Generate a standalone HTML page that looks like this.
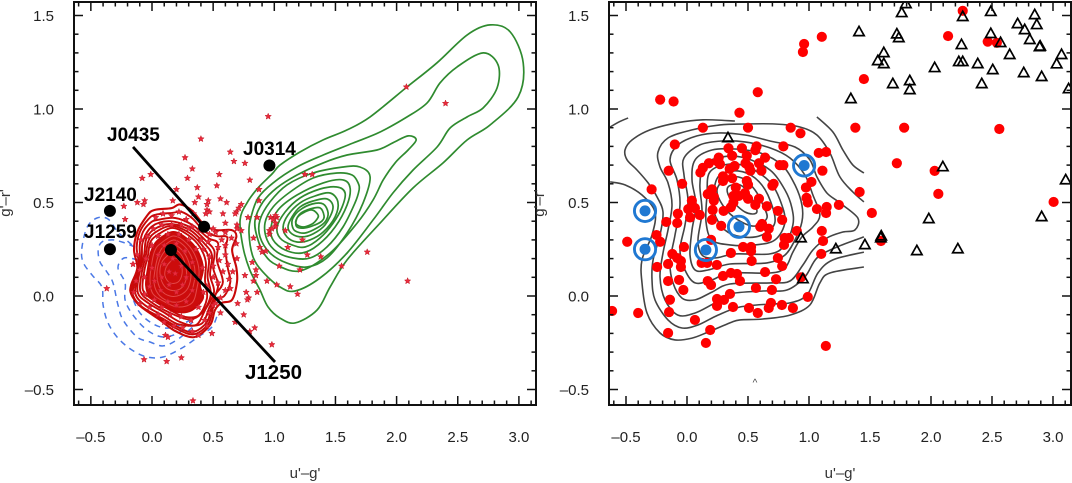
<!DOCTYPE html>
<html lang="en">
<head>
<meta charset="utf-8">
<title>Colour-colour diagrams</title>
<style>
html,body{margin:0;padding:0;background:#fff;width:1072px;height:483px;overflow:hidden}
svg{display:block}
text{font-family:"Liberation Sans",sans-serif}
.tick-label{font-size:15px;fill:#222}
.axis-title{font-size:15px;fill:#333}
.source-label{font-size:19px;font-weight:bold;fill:#000}
</style>
</head>
<body>
<svg width="1072" height="483" viewBox="0 0 1072 483">
<defs>
<clipPath id="clip-left"><rect x="74" y="2" width="462" height="403"/></clipPath>
<clipPath id="clip-right"><rect x="609" y="2" width="462" height="403"/></clipPath>
</defs>
<g id="left-marks" clip-path="url(#clip-left)"></g>
<g id="right-marks" clip-path="url(#clip-right)"></g>
<g id="left-axes"></g>
<g id="right-axes"></g>
<g id="annotations">
<text class="source-label" x="107" y="141">J0435</text>
<text class="source-label" x="243" y="155">J0314</text>
<text class="source-label" x="84" y="201">J2140</text>
<text class="source-label" x="84" y="238">J1259</text>
<text class="source-label" x="245" y="379" style="font-size:20.5px">J1250</text>
<text x="755" y="386" font-size="10" fill="#444" text-anchor="middle">^</text>
</g>
<text class="axis-title" x="305" y="478" text-anchor="middle">u'–g'</text>
<text class="axis-title" x="840" y="478" text-anchor="middle">u'–g'</text>
<text class="axis-title" transform="translate(10,203) rotate(-90)" text-anchor="middle">g'–r'</text>
<text class="axis-title" transform="translate(544,203) rotate(-90)" text-anchor="middle">g'–r'</text>
</svg>
<script>
// ---- tick labels ----
const xTickValues=[-0.5,0,0.5,1,1.5,2,2.5,3];
const xTickLabels=['–0.5','0.0','0.5','1.0','1.5','2.0','2.5','3.0'];
const yTickValues=[-0.5,0,0.5,1,1.5];
const yTickLabels=['–0.5','0.0','0.5','1.0','1.5'];

// ---- highlighted sources (u'-g', g'-r') ----
const sourceNames=['J2140','J1259','J1250','J0435','J0314'];
const sourceU=[-0.344,-0.344,0.155,0.426,0.96];
const sourceG=[0.455,0.25,0.246,0.37,0.698];
const leaderJ0435=[[-0.155,0.797],[0.426,0.37]];
const leaderJ1250=[[0.155,0.246],[1.006,-0.353]];

// ---- left panel: star-forming sample stars ----
const starPoints=[[.95,.96],[.40,.84],[.27,.74],[.64,.77],[.67,.72],[.76,.71],[.33,.68],[.55,.65],[.29,.63],[-.08,.63],[-.01,.65],[.80,.62],[.53,.59],[.37,.58],[.20,.57],[.875,.57],[.38,.53],[.56,.52],[.61,.50],[.46,.51],[.45,.49],[.875,.51],[.35,.50],[.17,.51],[-.06,.51],[-.07,.49],[-.12,.50],[-.23,.48],[-.22,.41],[.73,.49],[.71,.47],[.69,.45],[.68,.44],[.45,.46],[.44,.44],[.47,.45],[.58,.44],[.34,.44],[.86,.42],[.785,.42],[.60,.39],[.695,.38],[.695,.36],[.73,.35],[.50,.36],[.97,.42],[1.02,.42],[.99,.41],[1.09,.35],[.83,.31],[.96,.35],[1.01,.37],[1.25,.65],[1.31,.65],[1.01,.43],[1.01,.39],[.98,.36],[.96,.33],[1.23,.30],[1.11,.26],[.88,.26],[.90,.235],[.93,.24],[1.27,.22],[1.38,.21],[1.04,.16],[1.21,.14],[1.55,.16],[1.76,.235],[.82,.18],[.85,.14],[.85,.11],[.76,.11],[.83,.08],[.94,.08],[1.02,.06],[1.13,.05],[1.19,.01],[.86,.02],[.77,.02],[.79,-.01],[.78,-.02],[.70,-.04],[.75,-.10],[.84,-.17],[.695,.20],[.69,.28],[2.08,1.118],[2.40,1.03],[2.09,.08],[-.37,.04],[-.065,-.34],[.12,-.35],[.24,-.33],[.11,-.21],[.13,-.22],[.49,-.20],[.98,-.26],[.80,-.19],[.68,-.14],[.335,-.56],[-.155,.17],[.56,-.09],
[.03,.42],[.09,.44],[.16,.43],[.22,.45],[.28,.41],[.33,.37],[.39,.35],[.47,.33],[.52,.34],[.6,.34],[.65,.31],[.6,.27],[.54,.26],[.46,.29],[.4,.3],[.3,.36],[.24,.38],[.16,.38],[.08,.38],[.01,.36],[-.04,.32],[-.09,.3],[-.12,.22],[-.1,.14],[-.13,.08],[-.15,.02],[-.1,-.04],[-.06,.01],[-.02,-.06],[.05,-.1],[.1,-.14],[.18,-.16],[.25,-.17],[.33,-.19],[.38,-.21],[.43,-.13],[.47,-.09],[.5,-.05],[.56,-.01],[.6,.03],[.63,.09],[.58,.13],[.62,.17],[.55,.19],[.6,.22],[.5,.16],[.5,.1],[.45,.05],[.41,.15],[.36,.25],[.3,.3],[.22,.33],[.13,.33],[.05,.32],[0,.27],[-.05,.2],[-.06,.1],[-.02,.05],[.02,-.02],[.08,-.06],[.15,-.1],[.24,-.11],[.32,-.13],[.38,-.06],[.42,.02],[.36,.1],[.33,.18],[.27,.24],[.2,.28],[.1,.27],[.05,.22],[0,.15],[.02,.08],[.07,.03],[.13,-.03],[.2,-.05],[.28,-.03],[.33,.03],[.28,.1],[.24,.16],[.17,.2],[.1,.17],[.08,.1],[.14,.06],[.2,.02],[.25,.06],[.19,.12],[.14,.13],[.57,.3],[.66,.13],[.64,.04],[.54,.07],[.47,.21],[.42,.25],[.52,-.04],[.45,-.16]];

// ---- left panel: red density contours ----
const red1=[[-.04,.43],[.02,.46],[.16,.47],[.23,.49],[.33,.455],[.42,.385],[.515,.353],[.65,.353],[.69,.32],[.655,.246],[.69,.15],[.695,.075],[.655,-.02],[.57,-.037],[.515,-.075],[.475,-.155],[.345,-.22],[.19,-.187],[.065,-.128],[-.098,-.053],[-.17,.01],[-.17,.06],[-.12,.15],[-.147,.246],[-.12,.342]];
const red1b=[[-.03,.41],[.03,.435],[.17,.445],[.24,.45],[.33,.415],[.43,.345],[.53,.32],[.615,.315],[.6,.25],[.62,.15],[.64,.075],[.59,0],[.52,-.015],[.5,-.06],[.46,-.15],[.34,-.205],[.2,-.175],[.07,-.122],[-.09,-.056],[-.162,.008],[-.155,.07],[-.11,.165],[-.125,.26],[-.1,.342]];
const red2=[[-.016,.39],[.04,.406],[.19,.417],[.33,.38],[.46,.31],[.54,.283],[.53,.193],[.58,.075],[.515,.005],[.49,-.048],[.45,-.139],[.335,-.193],[.21,-.166],[.08,-.118],[-.08,-.059],[-.155,.005],[-.14,.075],[-.1,.182],[-.1,.273],[-.074,.342]];
const red2b=[[0,.372],[.145,.4],[.32,.365],[.44,.295],[.51,.24],[.5,.15],[.54,.05],[.47,-.06],[.40,-.15],[.22,-.152],[.09,-.105],[-.06,-.048],[-.135,.01],[-.122,.095],[-.085,.2],[-.075,.29]];
const red3=[[.01,.353],[.147,.385],[.31,.353],[.425,.283],[.49,.219],[.475,.112],[.507,.021],[.434,-.075],[.36,-.155],[.23,-.139],[.106,-.091],[-.033,-.037],[-.115,.016],[-.106,.112],[-.065,.219],[-.049,.3]];
const red3b=[[.02,.337],[.155,.375],[.3,.34],[.408,.272],[.465,.2],[.455,.1],[.48,.005],[.41,-.09],[.3,-.125],[.125,-.083],[-.012,-.03],[-.095,.024],[-.085,.12],[-.05,.219],[-.032,.29]];
const red4=[[.033,.321],[.164,.364],[.294,.326],[.392,.262],[.44,.182],[.433,.086],[.45,-.011],[.384,-.102],[.27,-.112],[.147,-.075],[.008,-.021],[-.074,.032],[-.065,.128],[-.033,.219],[-.016,.283]];
const red5=[[.049,.299],[.172,.342],[.278,.31],[.368,.246],[.417,.15],[.392,.059],[.417,-.011],[.327,-.075],[.213,-.086],[.09,-.048],[-.016,-.005],[-.049,.059],[-.033,.15],[-.008,.235]];
const red6=[[.065,.278],[.172,.321],[.262,.294],[.343,.23],[.384,.139],[.368,.043],[.327,-.037],[.213,-.059],[.106,-.032],[.008,.011],[-.016,.086],[0,.182],[.025,.246]];
const red7=[[.09,.262],[.172,.299],[.254,.273],[.319,.214],[.352,.128],[.327,.032],[.262,-.021],[.164,-.032],[.065,0],[.016,.07],[.033,.171],[.057,.225]];
const red8=[[.106,.241],[.18,.273],[.245,.246],[.294,.193],[.319,.118],[.294,.043],[.229,.005],[.147,0],[.074,.032],[.041,.102],[.057,.182]];
const red9=[[.123,.214],[.188,.246],[.245,.214],[.278,.15],[.278,.086],[.229,.037],[.147,.032],[.09,.064],[.065,.128],[.082,.182]];
const red10=[[.147,.182],[.196,.203],[.237,.171],[.245,.118],[.213,.075],[.147,.07],[.106,.107],[.114,.15]];

// ---- left panel: blue dashed contours ----
const blue1=[[-.164,.273],[-.278,.342],[-.36,.412],[-.45,.417],[-.53,.369],[-.573,.257],[-.564,.182],[-.49,.112],[-.41,.048],[-.40,-.048],[-.36,-.144],[-.278,-.225],[-.164,-.289],[-.041,-.326],[.09,-.326],[.245,-.278],[.376,-.219],[.49,-.166],[.54,-.091]];
const blue2=[[-.139,.262],[-.245,.289],[-.327,.3],[-.41,.289],[-.44,.246],[-.425,.182],[-.368,.128],[-.319,.07],[-.278,-.048],[-.237,-.128],[-.123,-.219],[-.016,-.246],[.09,-.267],[.204,-.235],[.352,-.155]];
const blue3=[[-.115,.193],[-.229,.203],[-.278,.15],[-.22,.07],[-.22,-.021],[-.155,-.102],[-.041,-.182],[.09,-.219],[.229,-.193],[.352,-.128]];
const blue4=[[-.18,.032],[-.115,-.075],[-.016,-.139],[.106,-.171],[.229,-.155],[.392,-.102]];

// ---- left panel: green contours ----
const green1=[[.72,.407],[.777,.498],[.867,.578],[.982,.653],[1.047,.70],[1.21,.77],[1.40,.835],[1.595,.888],[1.783,.958],[2.086,1.118],[2.33,1.247],[2.577,1.396],[2.765,1.45],[2.93,1.412],[3.035,1.247],[2.994,1.065],[2.765,.915],[2.577,.835],[2.38,.712],[2.135,.578],[1.865,.39],[1.595,.193],[1.456,.048],[1.35,-.075],[1.17,-.144],[1.047,-.118],[.949,-.059],[.883,.032],[.80,.139],[.744,.262]];
const green2=[[1.17,.027],[1.047,.048],[.908,.128],[.826,.209],[.793,.337],[.81,.423],[.867,.524],[.99,.605],[1.186,.69],[1.40,.754],[1.644,.818],[1.865,.877],[2.086,.958],[2.25,1.033],[2.356,1.14],[2.495,1.225],[2.708,1.30],[2.83,1.236],[2.822,1.113],[2.708,1.006],[2.577,.958],[2.438,.899],[2.331,.797],[2.135,.674],[1.97,.551],[1.808,.407],[1.595,.23],[1.374,.096]];
const green3=[[1.21,.134],[1.02,.166],[.924,.219],[.859,.316],[.843,.407],[.908,.503],[1.02,.578],[1.186,.647],[1.40,.712],[1.595,.754],[1.84,.781],[1.97,.819],[2.094,.856],[2.16,.835],[2.094,.781],[1.988,.712],[1.89,.62],[1.808,.514],[1.677,.39],[1.456,.23]];
const green4=[[1.783,.637],[1.70,.69],[1.562,.69],[1.317,.658],[1.104,.594],[.965,.503],[.883,.407],[.883,.316],[.965,.23],[1.104,.176],[1.268,.155],[1.43,.203],[1.595,.337],[1.726,.498]];
const green5=[[1.685,.605],[1.636,.647],[1.513,.658],[1.317,.631],[1.129,.556],[.99,.476],[.924,.391],[.941,.30],[1.023,.235],[1.153,.203],[1.292,.203],[1.43,.262],[1.562,.369],[1.66,.498],[1.693,.567]];
const green6=[[1.62,.578],[1.562,.621],[1.40,.605],[1.186,.54],[1.03,.46],[.973,.369],[.99,.30],[1.088,.246],[1.227,.23],[1.358,.273],[1.497,.369],[1.595,.487]];
const green7=[[1.579,.551],[1.513,.583],[1.374,.572],[1.21,.524],[1.088,.449],[1.023,.369],[1.047,.31],[1.145,.273],[1.252,.262],[1.374,.31],[1.481,.39],[1.554,.476]];
const green8=[[1.52,.503],[1.456,.551],[1.333,.535],[1.21,.498],[1.112,.433],[1.072,.369],[1.104,.316],[1.186,.289],[1.292,.30],[1.40,.342],[1.497,.423]];
const green9=[[1.48,.471],[1.432,.519],[1.317,.508],[1.21,.476],[1.145,.423],[1.112,.369],[1.145,.332],[1.227,.316],[1.317,.332],[1.415,.38]];
const green10=[[1.44,.444],[1.40,.492],[1.309,.492],[1.21,.46],[1.153,.417],[1.145,.38],[1.17,.348],[1.252,.337],[1.35,.364],[1.415,.396]];
const green11=[[1.407,.428],[1.374,.471],[1.292,.465],[1.21,.439],[1.178,.401],[1.186,.369],[1.252,.364],[1.333,.38],[1.39,.401]];
const green12=[[1.358,.433],[1.309,.46],[1.235,.444],[1.186,.417],[1.178,.385],[1.235,.369],[1.309,.385],[1.35,.412]];

// ---- right panel: red circles ----
const circlePoints=[[-.22,1.05],[-.11,1.04],[.58,1.09],[.43,.98],[.13,.90],[.50,.90],[.85,.90],[.93,.87],[1.38,.90],[-.10,.81],[.79,.80],[.57,.80],[.56,.78],[.34,.79],[.45,.79],[1.08,.765],[1.14,.77],[.49,.75],[.37,.75],[.26,.74],[.25,.72],[.64,.74],[.59,.71],[.48,.71],[.51,.69],[.76,.70],[.79,.70],[.18,.71],[.13,.685],[.11,.66],[.27,.705],[.39,.695],[.35,.68],[.52,.67],[.61,.67],[-.15,.67],[1.11,.67],[.295,.64],[.295,.615],[.37,.63],[.49,.615],[.50,.595],[1.02,.61],[.975,.58],[.71,.60],[.70,.59],[-.04,.60],[-.29,.57],[.205,.57],[.17,.545],[.40,.58],[.22,.53],[.475,.55],[.38,.535],[.425,.535],[.50,.52],[.59,.52],[.22,.51],[.98,.525],[.99,.50],[.04,.51],[.38,.50],[.36,.475],[.56,.487],[.655,.48],[.21,.46],[.01,.465],[.065,.47],[.30,.455],[.745,.455],[1.065,.465],[1.145,.476],[1.245,.487],[1.14,.444],[-.075,.44],[.025,.42],[.105,.433],[-.17,.396],[-.08,.39],[.205,.407],[.78,.407],[.28,.375],[.615,.385],[.60,.37],[.67,.36],[.90,.348],[1.105,.348],[-.25,.326],[.655,.316],[.80,.31],[.835,.31],[.197,.30],[.795,.273],[1.115,.294],[-.49,.29],[-.22,.29],[.46,.262],[.525,.262],[-.025,.262],[.36,.23],[.525,.24],[-.12,.225],[1.10,.225],[.745,.203],[-.08,.203],[-.05,.187],[.53,.187],[.78,.16],[-.155,.171],[-.245,.155],[-.05,.155],[.165,.177],[.12,.177],[.245,.166],[.64,.128],[.295,.107],[.36,.123],[.41,.118],[.935,.10],[.17,.08],[2.26,1.525],[1.105,1.386],[.96,1.348],[.95,1.305],[2.14,1.39],[2.465,1.36],[2.54,1.354],[1.45,1.16],[1.78,.90],[2.56,.893],[1.72,.71],[2.03,.669],[2.06,.546],[3.005,.503],[1.59,.294],[1.415,.556],[1.515,.444],[-.155,.08],[-.065,.086],[-.03,.032],[-.14,-.02],[-.147,-.086],[-.155,-.198],[.065,-.128],[.19,-.182],[.155,-.251],[-.614,-.08],[-.40,-.091],[.197,.059],[.434,.08],[.73,.09],[.565,.043],[.696,.032],[.352,.011],[.246,-.016],[.303,-.021],[.246,-.053],[.377,-.059],[.508,-.064],[.58,-.091],[.67,-.064],[.688,-.037],[.778,-.048],[.868,-.064],[.99,-.005],[1.138,-.267]];

// ---- right panel: open triangles ----
const trianglePoints=[[1.794,1.562],[1.76,1.514],[2.26,1.493],[2.49,1.52],[2.85,1.503],[2.867,1.45],[2.71,1.455],[2.768,1.423],[2.49,1.402],[2.81,1.37],[2.89,1.332],[2.895,1.335],[2.57,1.354],[2.25,1.343],[2.645,1.29],[3.07,1.29],[3.03,1.24],[1.41,1.412],[1.72,1.40],[1.736,1.38],[1.613,1.30],[1.564,1.257],[1.613,1.241],[2.03,1.22],[2.228,1.252],[2.26,1.252],[2.383,1.241],[2.506,1.209],[2.76,1.193],[2.907,1.172],[2.416,1.134],[1.687,1.134],[1.826,1.15],[1.826,1.102],[3.128,1.107],[1.343,1.054],[2.097,.69],[3.104,.62],[2.907,.423],[1.982,.412],[1.589,.31],[1.592,.32],[1.458,.273],[1.22,.251],[1.884,.241],[2.22,.251],[.934,.31],[.336,.845],[.95,.091]];

// ---- right panel: grey contours ----
const greyFragA=[[-.63,.904],[-.557,.931],[-.483,.952]];
const greyFragB=[[1.065,.958],[1.196,.877],[1.278,.781],[1.36,.70],[1.45,.658]];
const greyZ=[[-.63,.61],[-.508,.594],[-.369,.54],[-.262,.449],[-.287,.326],[-.369,.193],[-.369,.07],[-.328,-.091],[-.221,-.198],[-.098,-.235],[.041,-.225],[.172,-.193],[.352,-.144],[.434,-.128],[.622,-.123],[.844,-.102],[1.007,-.048],[1.089,.07],[1.171,.123],[1.45,.155]];
const greyY=[[1.45,.235],[1.196,.193],[1.073,.123],[.983,.005],[.844,-.037],[.68,-.043],[.434,-.059],[.254,-.102],[.09,-.155],[-.041,-.171],[-.156,-.128],[-.262,-.021],[-.287,.086],[-.278,.193],[-.221,.326],[-.197,.449],[-.246,.53],[-.319,.605],[-.41,.674],[-.491,.728],[-.508,.781],[-.45,.835],[-.303,.888],[-.082,.926],[.131,.942],[.393,.936]];
const greyX=[[1.45,.316],[1.229,.262],[1.065,.203],[.966,.102],[.819,.032],[.622,.027],[.352,.011],[.229,-.037],[.066,-.091],[-.074,-.102],[-.18,-.021],[-.221,.102],[-.197,.23],[-.156,.353],[-.123,.487],[-.156,.605],[-.221,.69],[-.238,.77],[-.156,.845],[.041,.888],[.27,.915],[.475,.92],[.721,.92],[.925,.904],[1.065,.861],[1.171,.765],[1.253,.637],[1.36,.556],[1.45,.503]];
const greyV=[[1.278,.342],[1.147,.31],[1.032,.246],[.95,.166],[.844,.08],[.68,.07],[.352,.064],[.205,.021],[.066,-.021],[-.041,-.011],[-.115,.07],[-.139,.182],[-.098,.326],[-.057,.487],[-.082,.621],[-.139,.728],[-.074,.808],[.082,.856],[.27,.872],[.475,.861],[.68,.829],[.885,.797],[1.007,.728],[1.065,.637],[1.147,.551],[1.253,.498],[1.40,.417],[1.376,.353]];
const greyU=[[1.032,.369],[.942,.316],[.868,.235],[.803,.15],[.68,.123],[.352,.123],[.205,.086],[.066,.07],[-.016,.139],[-.057,.246],[-.016,.38],[.008,.514],[-.025,.647],[-.025,.738],[.106,.808],[.287,.829],[.475,.824],[.68,.792],[.844,.738],[.966,.647],[1.032,.54],[1.089,.433]];
const greyT=[[.942,.396],[.885,.30],[.803,.219],[.655,.177],[.352,.171],[.172,.139],[.066,.139],[.025,.219],[.041,.353],[.074,.487],[.041,.621],[.066,.728],[.205,.781],[.393,.786],[.598,.765],[.778,.70],[.885,.594],[.942,.487]];
const greyS=[[.868,.38],[.803,.273],[.68,.225],[.393,.225],[.229,.203],[.123,.219],[.09,.30],[.123,.449],[.106,.594],[.139,.70],[.287,.744],[.475,.738],[.68,.674],[.803,.567],[.86,.471]];
const greyR=[[.803,.396],[.721,.30],[.557,.273],[.352,.273],[.205,.30],[.156,.396],[.164,.54],[.188,.663],[.352,.706],[.516,.685],[.68,.61],[.762,.514]];
const greyQ=[[.721,.396],[.614,.326],[.45,.316],[.311,.353],[.221,.449],[.221,.567],[.27,.647],[.418,.669],[.557,.631],[.663,.54]];
const greyP=[[.655,.417],[.557,.374],[.418,.407],[.303,.476],[.246,.567],[.328,.631],[.45,.631],[.557,.567],[.622,.487]];
const greyO=[[.573,.449],[.475,.449],[.352,.524],[.336,.583],[.434,.594],[.516,.54]];

const SVGNS='http://www.w3.org/2000/svg';
function mk(parent,tag,attrs){
  const el=document.createElementNS(SVGNS,tag);
  for(const k in attrs){el.setAttribute(k,attrs[k]);}
  parent.appendChild(el);
  return el;
}
// axis functions
const yAxis=g=>296-187*g;
const xAxisLeft=u=>152+122.3*u;
const xAxisRight=u=>687+122*u;

function smoothPath(points,closed,sx){
  const p=points.map(q=>[sx(q[0]),yAxis(q[1])]);
  const n=p.length;
  const at=i=>closed?p[(i+n)%n]:p[Math.max(0,Math.min(n-1,i))];
  let d='M'+p[0][0].toFixed(1)+' '+p[0][1].toFixed(1);
  const segs=closed?n:n-1;
  for(let i=0;i<segs;i++){
    const a=at(i-1),b=at(i),c=at(i+1),e=at(i+2);
    d+='C'+(b[0]+(c[0]-a[0])/6).toFixed(1)+' '+(b[1]+(c[1]-a[1])/6).toFixed(1)+' '+(c[0]-(e[0]-b[0])/6).toFixed(1)+' '+(c[1]-(e[1]-b[1])/6).toFixed(1)+' '+c[0].toFixed(1)+' '+c[1].toFixed(1);
  }
  return d+(closed?'Z':'');
}

function drawAxes(group,sx,left,right,titlePrefix){
  const top=2,bottom=405;
  const frame=mk(group,'rect',{x:left,y:top,width:right-left,height:bottom-top,fill:'none',stroke:'#111','stroke-width':2});
  
  
  for(let i=-6;i<=31;i++){
    const v=i/10,major=(i%5===0),len=major?9:4.5,x=sx(v);
    const t1=mk(group,'line',{x1:x,x2:x,y1:bottom,y2:bottom-len,stroke:'#111','stroke-width':1.5});
    
    
    const t2=mk(group,'line',{x1:x,x2:x,y1:top,y2:top+len,stroke:'#111','stroke-width':1.5});
    
    
  }
  for(let i=-5;i<=15;i++){
    const v=i/10,major=(i%5===0),len=major?9:4.5,y=yAxis(v);
    const t1=mk(group,'line',{x1:left,x2:left+len,y1:y,y2:y,stroke:'#111','stroke-width':1.5});
    
    
    const t2=mk(group,'line',{x1:right,x2:right-len,y1:y,y2:y,stroke:'#111','stroke-width':1.5});
    
    
  }
  xTickValues.forEach((v,i)=>{
    const t=mk(group,'text',{x:sx(v),y:442,'text-anchor':'middle',class:'tick-label'});
    t.textContent=xTickLabels[i];
    
    
  });
  yTickValues.forEach((v,i)=>{
    const t=mk(group,'text',{x:left-20,y:yAxis(v)+5.5,'text-anchor':'end',class:'tick-label'});
    t.textContent=yTickLabels[i];
    
    
  });
}

const leftG=document.getElementById('left-marks');
const rightG=document.getElementById('right-marks');

// left: blue
[blue1,blue2,blue3,blue4].forEach(c=>{
  const el=mk(leftG,'path',{d:smoothPath(c,false,xAxisLeft),fill:'none',stroke:'#4a78e6','stroke-width':1.5,'stroke-dasharray':'6 5'});
  
  
});
// left: red
[red1,red1b,red2,red2b,red3,red3b,red4,red5].forEach((c,i)=>{
  const el=mk(leftG,'path',{d:smoothPath(c,true,xAxisLeft),fill:i===7?'#cc0c0c':'none',stroke:'#c80808','stroke-width':i===0?2.1:1.9});
  
  
});
[red6,red7,red8,red9,red10].forEach(c=>{
  const el=mk(leftG,'path',{d:smoothPath(c,true,xAxisLeft),fill:'none',stroke:'#e44848','stroke-width':1});
  
  
});
// left: green
[green1,green2,green3,green4,green5,green6,green7,green8,green9,green10,green11,green12].forEach(c=>{
  const el=mk(leftG,'path',{d:smoothPath(c,true,xAxisLeft),fill:'none',stroke:'#2f8b2f','stroke-width':1.7});
  
  
});
// left: stars
starPoints.forEach(p=>{
  const cx=xAxisLeft(p[0]),cy=yAxis(p[1]);
  let pts='';
  for(let k=0;k<10;k++){
    const r=k%2?1.45:3.3,a=-Math.PI/2+k*Math.PI/5;
    pts+=(cx+r*Math.cos(a)).toFixed(1)+','+(cy+r*Math.sin(a)).toFixed(1)+' ';
  }
  const el=mk(leftG,'polygon',{points:pts,fill:'#ea2a3c',stroke:'#c01824','stroke-width':0.5});
  
  
});
// left: leaders and source dots
[leaderJ0435,leaderJ1250].forEach(l=>{
  const el=mk(leftG,'line',{x1:xAxisLeft(l[0][0]),y1:yAxis(l[0][1]),x2:xAxisLeft(l[1][0]),y2:yAxis(l[1][1]),stroke:'#000','stroke-width':2.8});
  
  
});
sourceNames.forEach((n,i)=>{
  const el=mk(leftG,'circle',{cx:xAxisLeft(sourceU[i]),cy:yAxis(sourceG[i]),r:6,fill:'#000'});
  
  
});

// right: contours
[[greyFragA,false],[greyFragB,false],[greyZ,false],[greyY,false],[greyX,false],[greyV,true],[greyU,true],[greyT,true],[greyS,true],[greyR,true],[greyQ,true],[greyP,true],[greyO,true]].forEach(c=>{
  const el=mk(rightG,'path',{d:smoothPath(c[0],c[1],xAxisRight),fill:'none',stroke:'#444','stroke-width':1.6});
  
  
});
// right: circles
circlePoints.forEach(p=>{
  const el=mk(rightG,'circle',{cx:xAxisRight(p[0]),cy:yAxis(p[1]),r:5.1,fill:'#ff0000'});
  
  
});
// right: triangles
trianglePoints.forEach(p=>{
  const cx=xAxisRight(p[0]),cy=yAxis(p[1]);
  const el=mk(rightG,'polygon',{points:(cx)+','+(cy-5.6)+' '+(cx+5.2)+','+(cy+3.7)+' '+(cx-5.2)+','+(cy+3.7),fill:'none',stroke:'#000','stroke-width':1.7});
  
  
});
// right: highlighted sources
sourceNames.forEach((n,i)=>{
  const cx=xAxisRight(sourceU[i]),cy=yAxis(sourceG[i]);
  const ring=mk(rightG,'circle',{cx:cx,cy:cy,r:10.6,fill:'none',stroke:'#1f78d2','stroke-width':2.9});
  
  
  const dot=mk(rightG,'circle',{cx:cx,cy:cy,r:5.5,fill:'#1f78d2'});
  
  
});

drawAxes(document.getElementById('left-axes'),xAxisLeft,74,536,'left');
drawAxes(document.getElementById('right-axes'),xAxisRight,609,1071,'right');
</script>
</body>
</html>
